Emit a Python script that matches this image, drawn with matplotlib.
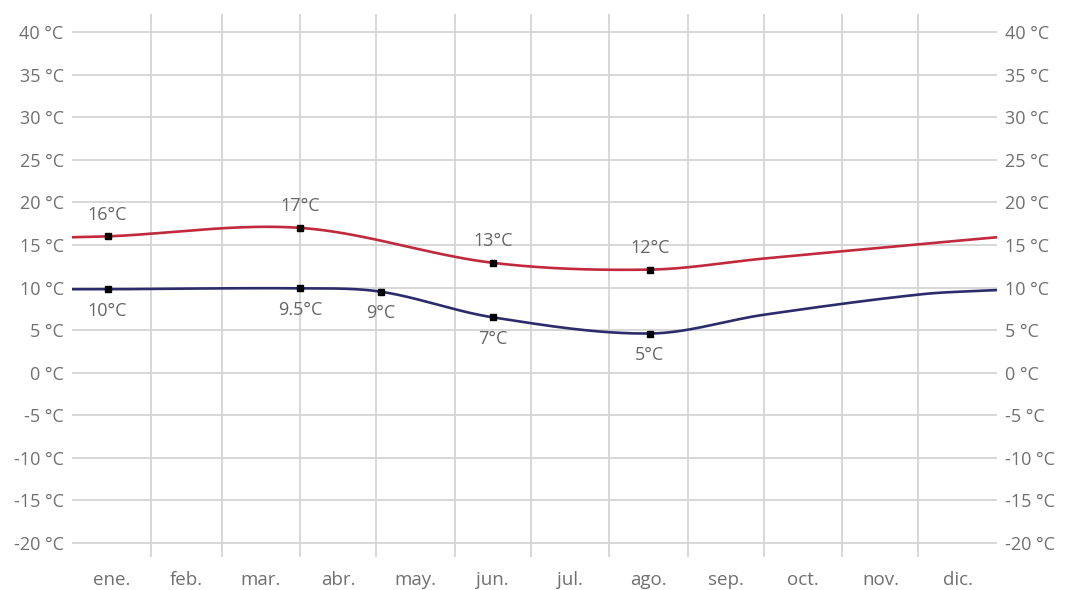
import numpy as np
import matplotlib
matplotlib.use("Agg")
import matplotlib.pyplot as plt

plt.rcParams['font.family'] = ['Open Sans', 'DejaVu Sans']

# month names and lengths (x axis is day of year)
months = ["ene.", "feb.", "mar.", "abr.", "may.", "jun.", "jul.", "ago.", "sep.", "oct.", "nov.", "dic."]
month_days = [31, 28, 31, 30, 31, 30, 31, 31, 30, 31, 30, 31]

# max temperature series (red), marked points
max_days = [14, 90, 166, 228]
max_vals = [16.0, 17.0, 12.9, 12.1]
max_labels = ["16°C", "17°C", "13°C", "12°C"]
# extra points the red line passes through (no marker)
max_line_days = [0, 14, 90, 166, 228, 273, 335, 365]
max_line_vals = [15.9, 16.0, 17.0, 12.9, 12.1, 13.4, 15.1, 15.9]

# min temperature series (blue), marked points
min_days = [14, 90, 122, 166, 228]
min_vals = [9.8, 9.9, 9.5, 6.5, 4.6]
min_labels = ["10°C", "9.5°C", "9°C", "7°C", "5°C"]
min_line_days = [0, 14, 90, 122, 166, 228, 273, 335, 365]
min_line_vals = [9.8, 9.8, 9.9, 9.5, 6.5, 4.6, 6.8, 9.2, 9.7]

yticks = list(range(-20, 45, 5))


def smooth(days, vals, n=40):
    # cardinal hermite curve through the given points
    x = np.array(days, float)
    y = np.array(vals, float)
    m = np.zeros_like(y)
    m[1:-1] = (y[2:] - y[:-2]) / (x[2:] - x[:-2])
    m[0] = (y[1] - y[0]) / (x[1] - x[0])
    m[-1] = (y[-1] - y[-2]) / (x[-1] - x[-2])
    xs, ys = [], []
    t = np.linspace(0, 1, n)
    for i in range(len(x) - 1):
        h = x[i + 1] - x[i]
        h00 = 2 * t**3 - 3 * t**2 + 1
        h10 = t**3 - 2 * t**2 + t
        h01 = -2 * t**3 + 3 * t**2
        h11 = t**3 - t**2
        xs.append(x[i] + t * h)
        ys.append(h00 * y[i] + h10 * h * m[i] + h01 * y[i + 1] + h11 * h * m[i + 1])
    return np.concatenate(xs), np.concatenate(ys)


fig = plt.figure(figsize=(10.67, 5.90), dpi=100)
ax = fig.add_axes([0.0675, 0.0559, 0.8669, 0.9204])

bounds = np.cumsum([0] + month_days)
centers = (bounds[:-1] + bounds[1:]) / 2

ax.set_xlim(0, 365)
ax.set_ylim(-21.64, 42.11)

for b in bounds[1:-1]:
    ax.axvline(b, color='#d4d4d4', lw=1.3, zorder=0)
for v in yticks:
    ax.axhline(v, color='#d4d4d4', lw=1.3, zorder=0)

xr, yr = smooth(max_line_days, max_line_vals)
ax.plot(xr, yr, color='#c02a3c', lw=1.9, zorder=2)
xb, yb = smooth(min_line_days, min_line_vals)
ax.plot(xb, yb, color='#2c2c6c', lw=1.9, zorder=2)

ax.plot(max_days, max_vals, 's', color='black', ms=5, zorder=3)
ax.plot(min_days, min_vals, 's', color='black', ms=5, zorder=3)

for d, v, lab in zip(max_days, max_vals, max_labels):
    ax.annotate(lab, (d, v), xytext=(0, 15.5), textcoords='offset points',
                ha='center', va='center', fontsize=13, color='#666666')
for d, v, lab in zip(min_days, min_vals, min_labels):
    ax.annotate(lab, (d, v), xytext=(0, -15.5), textcoords='offset points',
                ha='center', va='center', fontsize=13, color='#666666')

ax.set_yticks(yticks)
ax.set_yticklabels([f"{v} °C" for v in yticks])
ax.set_xticks(centers)
ax.set_xticklabels(months)
ax.tick_params(axis='y', length=0, pad=6, labelsize=13, labelcolor='#707070',
               labelleft=True, labelright=True)
ax.tick_params(axis='x', length=0, pad=10, labelsize=13.5, labelcolor='#707070')
for s in ax.spines.values():
    s.set_visible(False)

fig.savefig("out.png", dpi=100, facecolor='white')
